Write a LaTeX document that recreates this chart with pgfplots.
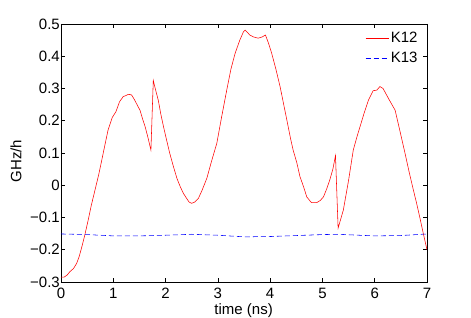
\documentclass[border=0pt]{standalone}
\usepackage{pgfplots}
\pgfplotsset{compat=1.18}
\usepackage{fontspec}
\setmainfont{Liberation Sans}
\begin{document}
\fontsize{15}{18}\selectfont
\begin{tikzpicture}
\begin{axis}[
  at={(0pt,0pt)}, anchor=south west,
  scale only axis, width=366pt, height=258pt,
  xmin=0, xmax=7, ymin=-0.3, ymax=0.5,
  xtick={0,1,2,3,4,5,6,7},
  ytick={-0.3,-0.2,-0.1,0,0.1,0.2,0.3,0.4,0.5},
  yticklabels={−0.3,−0.2,−0.1,0,0.1,0.2,0.3,0.4,0.5},
  /pgf/number format/assume math mode=true,
  tick align=inside, major tick length=4pt,
  tick style={black, line width=0.5pt},
  axis line style={line width=0.6pt},
  yticklabel style={inner sep=1pt, yshift=0pt, font=\fontsize{15}{18}\selectfont},
  xticklabel style={inner sep=1pt, yshift=-5pt, font=\fontsize{15}{18}\selectfont},
  xlabel={time (ns)}, ylabel={GHz/h},
  every axis x label/.style={at={(axis description cs:0.499,-0.126)}, anchor=base, font=\fontsize{15}{18}\selectfont},
  every axis y label/.style={at={(axis description cs:-0.123,0.469)}, anchor=center, rotate=90, font=\fontsize{15}{18}\selectfont},
  legend style={draw=none, fill=none, at={(axis description cs:0.98,0.977)}, anchor=north east,
    font=\fontsize{15}{18}\selectfont, row sep=3pt, inner sep=0pt},
  legend cell align=left,
  legend image code/.code={\draw[#1] (0pt,0pt) -- (23pt,0pt);},
]
\addplot[red, line width=0.55pt] coordinates {
(0,-0.285) (0.06,-0.285) (0.12,-0.278) (0.17,-0.268) (0.24,-0.258) (0.30,-0.242)
(0.35,-0.22) (0.40,-0.19) (0.46,-0.151) (0.52,-0.108) (0.58,-0.062) (0.65,-0.015)
(0.72,0.032) (0.78,0.078) (0.84,0.125) (0.90,0.171) (0.98,0.21) (1.05,0.228)
(1.12,0.259) (1.19,0.275) (1.24,0.278) (1.29,0.282) (1.35,0.28) (1.41,0.264)
(1.46,0.248) (1.51,0.233) (1.56,0.206) (1.61,0.181) (1.66,0.15) (1.72,0.109)
(1.765,0.325) (1.81,0.295) (1.86,0.264) (1.91,0.22) (1.96,0.182) (2.02,0.14)
(2.08,0.099) (2.15,0.058) (2.22,0.02) (2.28,-0.004) (2.34,-0.025) (2.40,-0.04)
(2.45,-0.052) (2.50,-0.056) (2.56,-0.052) (2.63,-0.04) (2.70,-0.015) (2.79,0.022)
(2.88,0.075) (2.98,0.13) (3.07,0.21) (3.17,0.295) (3.25,0.36) (3.33,0.409)
(3.42,0.45) (3.49,0.476) (3.52,0.481) (3.56,0.475) (3.61,0.466) (3.68,0.46)
(3.77,0.456) (3.85,0.46) (3.91,0.466) (3.97,0.44) (4.03,0.409) (4.11,0.36)
(4.19,0.306) (4.26,0.25) (4.32,0.202) (4.39,0.145) (4.44,0.109) (4.51,0.07)
(4.57,0.027) (4.64,-0.005) (4.70,-0.036) (4.79,-0.054) (4.89,-0.054) (4.96,-0.047)
(5.02,-0.036) (5.08,-0.012) (5.14,0.016) (5.20,0.05) (5.25,0.092) (5.30,-0.133)
(5.35,-0.105) (5.40,-0.077) (5.50,0.015) (5.59,0.109) (5.66,0.15) (5.72,0.182)
(5.80,0.225) (5.88,0.264) (5.97,0.293) (6.04,0.295) (6.10,0.306) (6.16,0.30)
(6.21,0.285) (6.26,0.27) (6.33,0.25) (6.39,0.233) (6.48,0.17) (6.58,0.099)
(6.66,0.04) (6.74,-0.015) (6.80,-0.055) (6.86,-0.098) (6.93,-0.15) (7.0,-0.20)
};
\addlegendentry{K12}
\addplot[blue, line width=0.55pt, dash pattern=on 5pt off 3pt] coordinates {
(0,-0.151) (0.5,-0.153) (1,-0.157) (1.5,-0.157) (2,-0.155) (2.5,-0.152)
(3,-0.155) (3.5,-0.160) (4,-0.159) (4.5,-0.156) (5,-0.153) (5.3,-0.152)
(5.7,-0.155) (6,-0.157) (6.5,-0.156) (7,-0.151)
};
\addlegendentry{K13}
\end{axis}
\pgfresetboundingbox
\path[use as bounding box] (-61pt,-36pt) rectangle (410pt,282pt);
\end{tikzpicture}
\end{document}
